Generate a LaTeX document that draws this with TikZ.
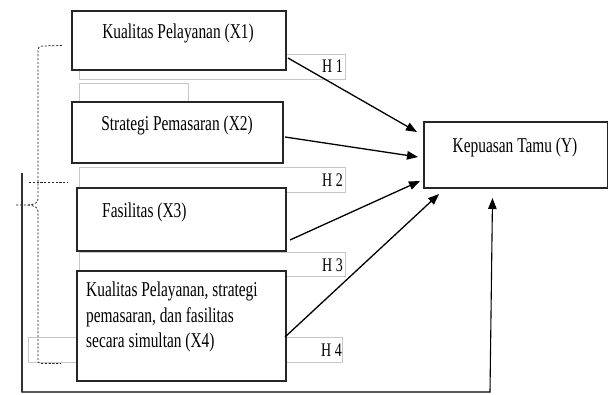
\documentclass[tikz,border=0pt]{standalone}
\usepackage{graphicx}
\usepackage{fontspec}
\setmainfont{Liberation Serif}
\usetikzlibrary{arrows.meta}
\newcommand{\vs}[1]{\scalebox{1}[1.37]{#1}}
\tikzset{
  varbox/.style={draw=black!85, line width=1.6pt, fill=white},
  hbox/.style={draw=black!22, line width=0.9pt},
  lbl/.style={inner sep=0pt, font=\fontsize{15.4}{18.3}\selectfont},
  hlbl/.style={inner sep=0pt, font=\fontsize{14}{16}\selectfont},
  arr/.style={line width=1.3pt, -{Triangle[length=11pt,width=8.5pt]}},
  dsh/.style={line width=0.75pt, black!85, dash pattern=on 2.2pt off 1.6pt},
}
\begin{document}
\begin{tikzpicture}[x=1pt,y=-1pt]
\path[use as bounding box] (0,0) rectangle (608,394);
% gray label boxes (behind)
\draw[hbox] (79,54) rectangle (345,79);
\draw[hbox] (79,101) -- (79,83) -- (188,83) -- (188,101);
\draw[draw=black!32, line width=1.4pt] (79,163.5) -- (138,163.5);
\draw[hbox] (79,167) rectangle (345,192);
\draw[hbox] (79,252) rectangle (345,276);
\draw[hbox] (28,337) rectangle (342,362);
% variable boxes
\node[varbox, minimum width=214pt, minimum height=59pt, anchor=north west] (x1) at (71,10) {};
\node[varbox, minimum width=211pt, minimum height=61pt, anchor=north west] (x2) at (71,101) {};
\node[varbox, minimum width=209pt, minimum height=63pt, anchor=north west] (x3) at (76,187) {};
\node[varbox, minimum width=209pt, minimum height=110pt, anchor=north west] (x4) at (76,270) {};
\node[varbox, minimum width=184pt, minimum height=66pt, anchor=north west] (y) at (423,121) {};
% texts
\node[lbl] (t1) at (178,33) {\vs{Kualitas Pelayanan (X1)}};
\node[lbl] (t2) at (177,125) {\vs{Strategi Pemasaran (X2)}};
\node[lbl, anchor=west] (t3) at (102,212) {\vs{Fasilitas (X3)}};
\node[lbl, anchor=west] (t4) at (86,317) {\vs{\begin{tabular}{@{}l@{}}Kualitas Pelayanan, strategi\\pemasaran, dan fasilitas\\secara simultan (X4)\end{tabular}}};
\node[lbl] (ty) at (515,147) {\vs{Kepuasan Tamu (Y)}};
\node[hlbl, anchor=east] (h1) at (343,66) {\vs{H 1}};
\node[hlbl, anchor=east] (h2) at (343,180) {\vs{H 2}};
\node[hlbl, anchor=east] (h3) at (343,265) {\vs{H 3}};
\node[hlbl, anchor=east] (h4) at (342,350) {\vs{H 4}};
% arrow coordinates
\coordinate (a1s) at (288,58);   \coordinate (a1e) at (417,132);
\coordinate (a2s) at (285,137);  \coordinate (a2e) at (418,157);
\coordinate (a3s) at (290,240);  \coordinate (a3e) at (420,181);
\coordinate (a4s) at (285,337);  \coordinate (a4e) at (439,194);
\coordinate (b0) at (22,173);  \coordinate (b1) at (22,392);
\coordinate (b2) at (490,392); \coordinate (b3) at (492.5,198);
\draw[arr] (a1s) -- (a1e);
\draw[arr] (a2s) -- (a2e);
\draw[arr] (a3s) -- (a3e);
\draw[arr] (a4s) -- (a4e);
\draw[arr, line width=1.1pt] (b0) -- (b1) -- (b2) -- (b3);
\draw[line width=1.1pt, black!80] (b0) -- (b1);
% dashed bracket
\coordinate (d0) at (62,45.5);
\coordinate (d1) at (38,362);
\coordinate (d2) at (61,363.5);
\coordinate (e0) at (29,182);
\coordinate (e1) at (68,182);
\coordinate (f0) at (16,205);
\draw[dsh] (d0) -- (42,46) .. controls (38.5,46.5) and (38,48) .. (38,52) -- (38,199)
  .. controls (38,203) and (34,204.5) .. (28,205) -- (f0);
\draw[dsh] (28,205) .. controls (34,205.5) and (38,207) .. (38,211) -- (d1)
  .. controls (38,363) and (40,363.5) .. (44,363.5) -- (d2);
\draw[dsh] (e0) -- (e1);
\end{tikzpicture}
\end{document}
